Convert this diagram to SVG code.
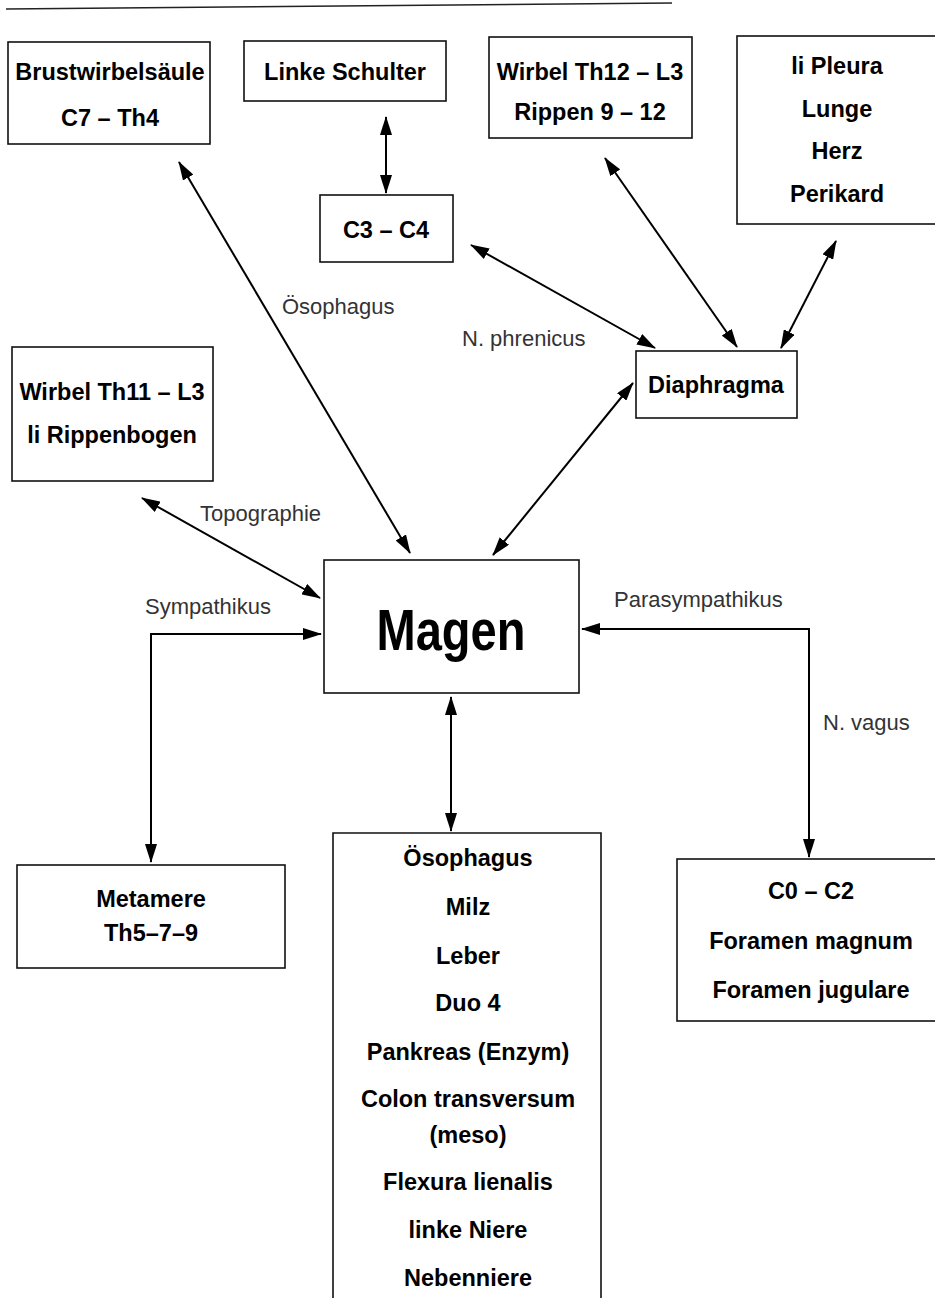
<svg xmlns="http://www.w3.org/2000/svg" width="935" height="1298" viewBox="0 0 935 1298">
<defs>
<marker id="ah" viewBox="0 0 19 12" refX="18" refY="6" markerWidth="19" markerHeight="12" markerUnits="userSpaceOnUse" orient="auto-start-reverse">
<path d="M0,0 L19,6 L0,12 Z" fill="#000"/>
</marker>
<style>
.box{fill:#fff;stroke:#111;stroke-width:1.6}
.t{font-family:"Liberation Sans",Arial,sans-serif;font-weight:bold;font-size:23.5px;fill:#000;text-anchor:middle}
.lbl{font-family:"Liberation Sans",Arial,sans-serif;font-size:22px;fill:#333;font-weight:normal}
.c{fill:none;stroke:#000;stroke-width:2}
</style>
</defs>
<rect width="935" height="1298" fill="#fff"/>
<line x1="6" y1="9" x2="672" y2="3" stroke="#222" stroke-width="1.6"/>

<g id="n-brust"><rect class="box" x="8" y="42" width="202" height="102"/>
<text class="t" x="110" y="80">Brustwirbelsäule</text><text class="t" x="110" y="126">C7 – Th4</text></g>
<g id="n-schulter"><rect class="box" x="244" y="41" width="202" height="60"/>
<text class="t" x="345" y="80">Linke Schulter</text></g>
<g id="n-c3c4"><rect class="box" x="320" y="195" width="133" height="67"/>
<text class="t" x="386" y="238">C3 – C4</text></g>
<g id="n-th12"><rect class="box" x="489" y="37" width="203" height="101"/>
<text class="t" x="590" y="80">Wirbel Th12 – L3</text><text class="t" x="590" y="120">Rippen 9 – 12</text></g>
<g id="n-pleura"><rect class="box" x="737" y="36" width="210" height="188"/>
<text class="t" x="837" y="74">li Pleura</text><text class="t" x="837" y="117">Lunge</text><text class="t" x="837" y="159">Herz</text><text class="t" x="837" y="202">Perikard</text></g>
<g id="n-diaphragma"><rect class="box" x="636" y="351" width="161" height="67"/>
<text class="t" x="716" y="393">Diaphragma</text></g>
<g id="n-th11"><rect class="box" x="12" y="347" width="201" height="134"/>
<text class="t" x="112" y="400">Wirbel Th11 – L3</text><text class="t" x="112" y="443">li Rippenbogen</text></g>
<g id="n-magen"><rect class="box" x="324" y="560" width="255" height="133"/>
<text x="451" y="650" text-anchor="middle" font-family="Liberation Sans, Arial, sans-serif" font-weight="bold" font-size="57" textLength="149" lengthAdjust="spacingAndGlyphs">Magen</text></g>
<g id="n-metamere"><rect class="box" x="17" y="865" width="268" height="103"/>
<text class="t" x="151" y="907">Metamere</text><text class="t" x="151" y="941">Th5–7–9</text></g>
<g id="n-organe"><path class="box" d="M333,1305 L333,833 L601,833 L601,1305"/>
<text class="t" x="468" y="866">Ösophagus</text><text class="t" x="468" y="915">Milz</text><text class="t" x="468" y="964">Leber</text><text class="t" x="468" y="1011">Duo 4</text><text class="t" x="468" y="1060">Pankreas (Enzym)</text><text class="t" x="468" y="1107">Colon transversum</text><text class="t" x="468" y="1143">(meso)</text><text class="t" x="468" y="1190">Flexura lienalis</text><text class="t" x="468" y="1238">linke Niere</text><text class="t" x="468" y="1286">Nebenniere</text></g>
<g id="n-c0c2"><rect class="box" x="677" y="859" width="270" height="162"/>
<text class="t" x="811" y="899">C0 – C2</text><text class="t" x="811" y="949">Foramen magnum</text><text class="t" x="811" y="998">Foramen jugulare</text></g>

<g id="connectors">
<line class="c" x1="386" y1="117" x2="386" y2="193" marker-start="url(#ah)" marker-end="url(#ah)"/>
<line class="c" x1="179" y1="162" x2="410" y2="553" marker-start="url(#ah)" marker-end="url(#ah)"/>
<line class="c" x1="471" y1="245" x2="655" y2="348" marker-start="url(#ah)" marker-end="url(#ah)"/>
<line class="c" x1="605" y1="158" x2="737" y2="347" marker-start="url(#ah)" marker-end="url(#ah)"/>
<line class="c" x1="836" y1="241" x2="781" y2="348" marker-start="url(#ah)" marker-end="url(#ah)"/>
<line class="c" x1="493" y1="555" x2="633" y2="383" marker-start="url(#ah)" marker-end="url(#ah)"/>
<line class="c" x1="142" y1="498" x2="320" y2="598" marker-start="url(#ah)" marker-end="url(#ah)"/>
<polyline class="c" points="151,862 151,634 321,634" marker-start="url(#ah)" marker-end="url(#ah)"/>
<polyline class="c" points="582,629 809,629 809,857" marker-start="url(#ah)" marker-end="url(#ah)"/>
<line class="c" x1="451" y1="697" x2="451" y2="831" marker-start="url(#ah)" marker-end="url(#ah)"/>
<text class="lbl" x="282" y="314">Ösophagus</text>
<text class="lbl" x="462" y="346">N. phrenicus</text>
<text class="lbl" x="200" y="521">Topographie</text>
<text class="lbl" x="145" y="614">Sympathikus</text>
<text class="lbl" x="614" y="607">Parasympathikus</text>
<text class="lbl" x="823" y="730">N. vagus</text>
</g>
</svg>
